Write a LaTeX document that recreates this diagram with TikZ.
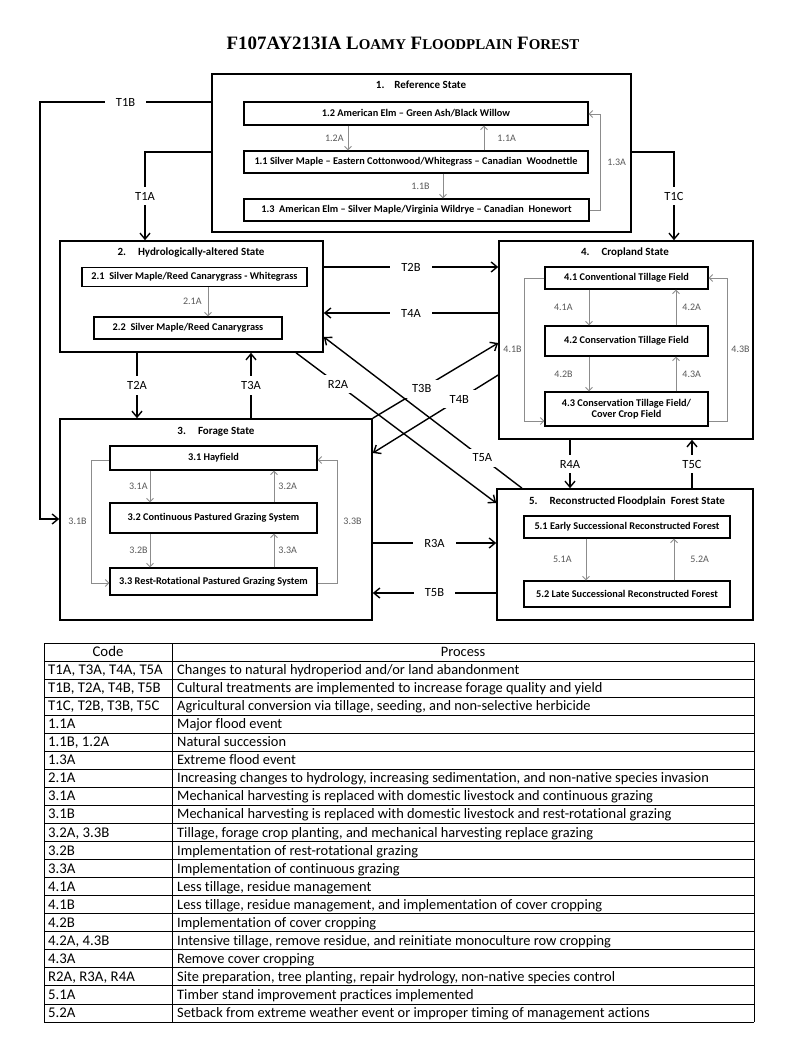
\documentclass[tikz,border=0pt]{standalone}
\usepackage{fontspec}
\setmainfont{Carlito}[Ligatures=NoCommon]
\newfontfamily\titlefont{Liberation Serif}
\usepackage{xcolor}
\usetikzlibrary{arrows.meta}
\usetikzlibrary{positioning}
\definecolor{innergray}{gray}{0.55}
\definecolor{labelgray}{gray}{0.35}
\newcommand{\fakesc}[1]{{\fontsize{14.9}{16}\selectfont #1}}
\tikzset{
	statebox/.style={draw=black, line width=1.6pt, inner sep=0pt},
	phasebox/.style={draw=black, line width=1.2pt, fill=white, inner sep=0pt, align=center, font=\fontsize{10.3}{11.5}\selectfont\bfseries},
	statetitle/.style={inner sep=0pt, font=\fontsize{11}{13}\selectfont\bfseries},
	trans/.style={line width=1.4pt, -{Straight Barb[length=6pt,width=10pt]}},
	translabel/.style={fill=white, inner xsep=11pt, inner ysep=5pt, font=\fontsize{12.5}{14}\selectfont},
	pathway/.style={draw=innergray, line width=0.9pt, -{Straight Barb[length=3.5pt,width=7pt]}},
	pathlabel/.style={text=labelgray, inner sep=1pt, font=\fontsize{10}{12}\selectfont},
	tablerule/.style={line width=1pt, draw=black},
	codetext/.style={anchor=base west, inner sep=0pt, font=\fontsize{14.8}{16}\selectfont},
	proctext/.style={anchor=base west, inner sep=0pt, font=\fontsize{14.4}{16}\selectfont}
}

\begin{document}
\begin{tikzpicture}[x=1pt, y=-1pt]
			\useasboundingbox (0,0) rectangle (800,1041);
			\fill[white] (0,0) rectangle (800,1041);
			% title
			\node (title) at (403,43) {\titlefont\bfseries\fontsize{18.9}{20}\selectfont F107AY213IA L\fakesc{OAMY} F\fakesc{LOODPLAIN} F\fakesc{OREST}};
			
			% state boxes
			\node[statebox, minimum width=419pt, minimum height=158pt] (S1) at (421.5,153) {};
			\node[statebox, minimum width=263pt, minimum height=111pt] (S2) at (191.5,296.5) {};
			\node[statebox, minimum width=312pt, minimum height=201pt] (S3) at (216,519.5) {};
			\node[statebox, minimum width=254pt, minimum height=198pt] (S4) at (626,340) {};
			\node[statebox, minimum width=256pt, minimum height=131pt] (S5) at (625,554.5) {};
			
			\node[statetitle] (S1t) at (421,85) {1.\hspace{10pt}Reference State};
			\node[statetitle] (S2t) at (191,253) {2.\hspace{12pt}Hydrologically-altered State};
			\node[statetitle] (S3t) at (216,432) {3.\hspace{12pt}Forage State};
			\node[statetitle] (S4t) at (625,253) {4.\hspace{12pt}Cropland State};
			\node[statetitle] (S5t) at (627,501) {5.\hspace{12pt}Reconstructed Floodplain\ \ Forest State};
			
			% community phases
			\node[phasebox, minimum width=344pt, minimum height=23pt] (b12) at (416,113.5) {1.2 American Elm -- Green Ash/Black Willow};
			\node[phasebox, minimum width=344pt, minimum height=22pt] (b11) at (416,162) {1.1 Silver Maple -- Eastern Cottonwood/Whitegrass -- Canadian\ \ Woodnettle};
			\node[phasebox, minimum width=345pt, minimum height=22pt] (b13) at (416.5,210) {1.3\ \ American Elm -- Silver Maple/Virginia Wildrye -- Canadian\ \ Honewort};
			\node[phasebox, minimum width=225pt, minimum height=19pt] (b21) at (194.5,277) {2.1\ \ Silver Maple/Reed Canarygrass - Whitegrass};
			\node[phasebox, minimum width=188pt, minimum height=22pt] (b22) at (188,328) {2.2\ \ Silver Maple/Reed Canarygrass};
			\node[phasebox, minimum width=207pt, minimum height=24pt] (b31) at (213.5,458) {3.1 Hayfield};
			\node[phasebox, minimum width=207pt, minimum height=30pt] (b32) at (213.5,518) {3.2 Continuous Pastured Grazing System};
			\node[phasebox, minimum width=207pt, minimum height=27pt] (b33) at (213.5,581.5) {3.3 Rest-Rotational Pastured Grazing System};
			\node[phasebox, minimum width=163pt, minimum height=22pt] (b41) at (626.5,278) {4.1 Conventional Tillage Field};
			\node[phasebox, minimum width=163pt, minimum height=30pt] (b42) at (626.5,341) {4.2 Conservation Tillage Field};
			\node[phasebox, minimum width=163pt, minimum height=34pt] (b43) at (626.5,409) {4.3 Conservation Tillage Field/\\Cover Crop Field};
			\node[phasebox, minimum width=206pt, minimum height=22pt] (b51) at (627,527) {5.1 Early Successional Reconstructed Forest};
			\node[phasebox, minimum width=206pt, minimum height=26pt] (b52) at (627,594) {5.2 Late Successional Reconstructed Forest};
			
			% pathways inside the states
			\draw[pathway] (b12.south -| 348,0) -- node[pathlabel, left=3pt] {1.2A} (b11.north -| 348,0);
			\draw[pathway] (b11.north -| 484,0) -- node[pathlabel, right=12pt] {1.1A} (b12.south -| 484,0);
			\draw[pathway] (b11.south -| 443,0) -- node[pathlabel, left=12pt] {1.1B} (b13.north -| 443,0);
			\draw[pathway] (b13.east) -| node[pathlabel, pos=0.75, right=6pt] {1.3A} (600,114) -- (b12.east |- 0,114);
			\draw[pathway] (b21.south -| 208,0) -- node[pathlabel, left=5pt] {2.1A} (b22.north -| 208,0);
			\draw[pathway] (b31.south -| 150,0) -- node[pathlabel, left=1pt] {3.1A} (b32.north -| 150,0);
			\draw[pathway] (b32.north -| 274,0) -- node[pathlabel, right=3pt] {3.2A} (b31.south -| 274,0);
			\draw[pathway] (b32.south -| 150,0) -- node[pathlabel, left=1pt] {3.2B} (b33.north -| 150,0);
			\draw[pathway] (b33.north -| 274,0) -- node[pathlabel, right=3pt] {3.3A} (b32.south -| 274,0);
			\draw[pathway] (b31.west |- 0,460) -| node[pathlabel, pos=0.75, left=3pt] {3.1B} (91,583) -- (b33.west |- 0,583);
			\draw[pathway] (b33.east |- 0,583) -| node[pathlabel, pos=0.75, right=5pt] {3.3B} (337,460) -- (b31.east |- 0,460);
			\draw[pathway] (b41.south -| 589,0) -- node[pathlabel, left=15pt] {4.1A} (b42.north -| 589,0);
			\draw[pathway] (b42.north -| 676,0) -- node[pathlabel, right=5pt] {4.2A} (b41.south -| 676,0);
			\draw[pathway] (b42.south -| 589,0) -- node[pathlabel, left=15pt] {4.2B} (b43.north -| 589,0);
			\draw[pathway] (b43.north -| 676,0) -- node[pathlabel, right=5pt] {4.3A} (b42.south -| 676,0);
			\draw[pathway] (b41.west) -| node[pathlabel, pos=0.75, left=1pt] {4.1B} (524,421) -- (b43.west |- 0,421);
			\draw[pathway] (b43.east |- 0,421) -| node[pathlabel, pos=0.75, right=3pt] {4.3B} (727,278) -- (b41.east);
			\draw[pathway] (b51.south -| 586,0) -- node[pathlabel, left=13pt] {5.1A} (b52.north -| 586,0);
			\draw[pathway] (b52.north -| 674,0) -- node[pathlabel, right=15pt] {5.2A} (b51.south -| 674,0);
			
			% transitions between the states
			\draw[trans] (S1.west |- 0,102) -- node[translabel] {T1B} (40,102) -- (40,519) -- (S3.west |- 0,519);
			\draw[trans] (S1.west |- 0,152) -| node[translabel, pos=0.75] {T1A} (S2.north -| 145,0);
			\draw[trans] (S1.east |- 0,152) -| node[translabel, pos=0.75] {T1C} (S4.north -| 674,0);
			\draw[trans] (S2.east |- 0,267) -- node[translabel] {T2B} (S4.west |- 0,267);
			\draw[trans] (S4.west |- 0,313) -- node[translabel] {T4A} (S2.east |- 0,313);
			\draw[trans] (S2.south -| 137,0) -- node[translabel] {T2A} (S3.north -| 137,0);
			\draw[trans] (S3.north -| 251,0) -- node[translabel] {T3A} (S2.south -| 251,0);
			\draw[trans] (S2.south -| 296,0) -- node[translabel, pos=0.21] {R2A} (S5.west |- 0,503);
			\draw[trans] (S3.north east) -- node[translabel, pos=0.39] {T3B} (S4.west |- 0,343);
			\draw[trans] (S4.west |- 0,375) -- node[translabel, pos=0.31] {T4B} (S3.east |- 0,453);
			\draw[trans] (S5.north -| 522,0) -- node[translabel, pos=0.2] {T5A} (S2.east |- 0,337);
			\draw[trans] (S4.south -| 570,0) -- node[translabel] {R4A} (S5.north -| 570,0);
			\draw[trans] (S5.north -| 692,0) -- node[translabel] {T5C} (S4.south -| 692,0);
			\draw[trans] (S3.east |- 0,543) -- node[translabel] {R3A} (S5.west |- 0,543);
			\draw[trans] (S5.west |- 0,593) -- node[translabel] {T5B} (S3.east |- 0,593);
			
			% legend table
			\foreach \i in {0,...,21}
				\draw[tablerule] (44,{643+\i*18.05}) -- (754,{643+\i*18.05});
			\draw[tablerule] (44,643) -- (44,1022.05);
			\draw[tablerule] (172,643) -- (172,1022.05);
			\draw[tablerule] (754,643) -- (754,1022.05);
			\node[codetext, anchor=base] (codehead) at (108,656.5) {Code};
			\node[proctext, anchor=base] (prochead) at (463,656.5) {Process};
			\foreach \code/\proc [count=\i] in {
				{T1A, T3A, T4A, T5A}/{Changes to natural hydroperiod and/or land abandonment},
				{T1B, T2A, T4B, T5B}/{Cultural treatments are implemented to increase forage quality and yield},
				{T1C, T2B, T3B, T5C}/{Agricultural conversion via tillage, seeding, and non-selective herbicide},
				{1.1A}/{Major flood event},
				{1.1B, 1.2A}/{Natural succession},
				{1.3A}/{Extreme flood event},
				{2.1A}/{Increasing changes to hydrology, increasing sedimentation, and non-native species invasion},
				{3.1A}/{Mechanical harvesting is replaced with domestic livestock and continuous grazing},
				{3.1B}/{Mechanical harvesting is replaced with domestic livestock and rest-rotational grazing},
				{3.2A, 3.3B}/{Tillage, forage crop planting, and mechanical harvesting replace grazing},
				{3.2B}/{Implementation of rest-rotational grazing},
				{3.3A}/{Implementation of continuous grazing},
				{4.1A}/{Less tillage, residue management},
				{4.1B}/{Less tillage, residue management, and implementation of cover cropping},
				{4.2B}/{Implementation of cover cropping},
				{4.2A, 4.3B}/{Intensive tillage, remove residue, and reinitiate monoculture row cropping},
				{4.3A}/{Remove cover cropping},
				{R2A, R3A, R4A}/{Site preparation, tree planting, repair hydrology, non-native species control},
				{5.1A}/{Timber stand improvement practices implemented},
				{5.2A}/{Setback from extreme weather event or improper timing of management actions}}{
				\node[codetext] (code\i) at (48,{643+\i*18.05+13.5}) {\code};
				\node[proctext] (proc\i) at (177,{643+\i*18.05+13.5}) {\proc};
			}
		\end{tikzpicture}
\end{document}
